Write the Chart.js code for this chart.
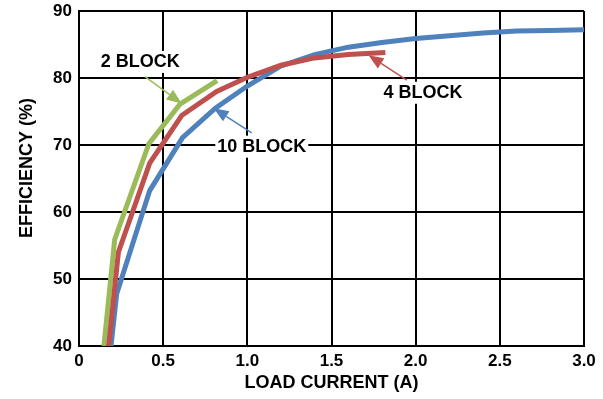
<!DOCTYPE html>
<html>
<head>
<meta charset="utf-8">
<script src="https://cdn.jsdelivr.net/npm/chart.js@4/dist/chart.umd.min.js"></script>
<style>
  html, body { margin: 0; padding: 0; background: #fff; }
  #wrap { width: 603px; height: 399px; position: relative; }
</style>
</head>
<body>
<div id="wrap"><canvas id="c"></canvas></div>
<script>
// Efficiency vs load current for three block configurations
const twoBlockCurrent = [0.148, 0.212, 0.415, 0.60, 0.82];
const twoBlockEff     = [40, 55.9, 70.2, 76.1, 79.6];

const fourBlockCurrent = [0.176, 0.234, 0.42, 0.61, 0.818, 1.0, 1.2, 1.4, 1.6, 1.82];
const fourBlockEff     = [40, 54.0, 67.3, 74.4, 78.0, 80.1, 81.9, 83.0, 83.5, 83.8];

const tenBlockCurrent = [0.19, 0.224, 0.42, 0.615, 0.81, 1.0, 1.2, 1.4, 1.6, 1.8, 2.0, 2.2, 2.4, 2.6, 2.8, 3.0];
const tenBlockEff     = [40, 47.8, 63.2, 71.1, 75.5, 78.8, 81.8, 83.5, 84.6, 85.3, 85.9, 86.3, 86.7, 87.0, 87.1, 87.2];

const xTickValues = [0, 0.5, 1, 1.5, 2, 2.5, 3];
const xTickLabels = ['0', '0.5', '1.0', '1.5', '2.0', '2.5', '3.0'];
const yTickValues = [40, 50, 60, 70, 80, 90];
const yTickLabels = ['40', '50', '60', '70', '80', '90'];

const xTitle = 'LOAD CURRENT (A)';
const yTitle = 'EFFICIENCY (%)';

// Callouts: label centre and arrow tail/tip, in axis units (A, %)
const calloutText   = ['2 BLOCK', '4 BLOCK', '10 BLOCK'];
const calloutLabelX = [0.364, 2.044, 1.086];
const calloutLabelY = [82.4, 77.8, 69.75];
const arrowTailX    = [0.392, 1.947, 1.026];
const arrowTailY    = [80.2, 79.7, 71.8];
const arrowTipX     = [0.61, 1.72, 0.80];
const arrowTipY     = [76.2, 83.4, 75.5];

const GREEN = '#9BBB59';
const RED   = '#C0504D';
const BLUE  = '#4F81BD';
const calloutColor = [GREEN, RED, BLUE];

const FONT = '"Liberation Sans", Arial, sans-serif';

function toPoints(xs, ys) {
  return xs.map((x, i) => ({ x: x, y: ys[i] }));
}

const lineStyle = {
  showLine: true,
  pointRadius: 0,
  pointHoverRadius: 0,
  borderWidth: 5,
  tension: 0,
  fill: false,
  borderJoinStyle: 'miter',
  borderCapStyle: 'butt'
};

// Axis titles and callout arrows/labels
const overlay = {
  id: 'overlay',
  afterDraw(chart) {
    const ctx = chart.ctx;
    const xs = chart.scales.x, ys = chart.scales.y;
    const area = chart.chartArea;
    ctx.save();

    // axis titles
    ctx.fillStyle = '#000';
    ctx.font = 'bold 18px ' + FONT;
    ctx.textAlign = 'center';
    ctx.textBaseline = 'middle';
    ctx.fillText(xTitle, (area.left + area.right) / 2, 383);
    ctx.save();
    ctx.translate(27, 168);
    ctx.rotate(-Math.PI / 2);
    ctx.fillText(yTitle, 0, 0);
    ctx.restore();

    // callouts
    for (let i = 0; i < calloutText.length; i++) {
      const col = calloutColor[i];
      const tx = xs.getPixelForValue(arrowTailX[i]);
      const ty = ys.getPixelForValue(arrowTailY[i]);
      const hx = xs.getPixelForValue(arrowTipX[i]);
      const hy = ys.getPixelForValue(arrowTipY[i]);
      const ang = Math.atan2(hy - ty, hx - tx);
      const headLen = 15, headHalf = 6;
      const bx = hx - headLen * Math.cos(ang);
      const by = hy - headLen * Math.sin(ang);
      ctx.strokeStyle = col;
      ctx.lineWidth = 1.5;
      ctx.beginPath();
      ctx.moveTo(tx, ty);
      ctx.lineTo(bx, by);
      ctx.stroke();
      ctx.fillStyle = col;
      ctx.beginPath();
      ctx.moveTo(hx, hy);
      ctx.lineTo(bx + headHalf * Math.sin(ang), by - headHalf * Math.cos(ang));
      ctx.lineTo(bx - headHalf * Math.sin(ang), by + headHalf * Math.cos(ang));
      ctx.closePath();
      ctx.fill();

      // label with white backing
      const lx = xs.getPixelForValue(calloutLabelX[i]);
      const ly = ys.getPixelForValue(calloutLabelY[i]);
      ctx.font = 'bold 18px ' + FONT;
      const w = ctx.measureText(calloutText[i]).width;
      ctx.fillStyle = '#fff';
      ctx.fillRect(lx - w / 2 - 2, ly - 11, w + 4, 22);
      ctx.fillStyle = '#000';
      ctx.textAlign = 'center';
      ctx.textBaseline = 'middle';
      ctx.fillText(calloutText[i], lx, ly);
    }
    ctx.restore();
  }
};

new Chart(document.getElementById('c'), {
  type: 'scatter',
  data: {
    datasets: [
      Object.assign({ label: calloutText[0], data: toPoints(twoBlockCurrent, twoBlockEff), borderColor: GREEN, backgroundColor: GREEN, order: 2 }, lineStyle),
      Object.assign({ label: calloutText[1], data: toPoints(fourBlockCurrent, fourBlockEff), borderColor: RED, backgroundColor: RED, order: 1 }, lineStyle),
      Object.assign({ label: calloutText[2], data: toPoints(tenBlockCurrent, tenBlockEff), borderColor: BLUE, backgroundColor: BLUE, order: 3 }, lineStyle)
    ]
  },
  options: {
    responsive: true,
    maintainAspectRatio: false,
    animation: false,
    events: [],
    layout: { padding: { left: 0, top: 11, right: 19, bottom: 0 } },
    plugins: { legend: { display: false }, tooltip: { enabled: false } },
    scales: {
      x: {
        type: 'linear',
        min: 0, max: 3,
        afterBuildTicks(scale) { scale.ticks = xTickValues.map(v => ({ value: v })); },
        afterFit(scale) { scale.height = 53; scale.paddingLeft = 0; scale.paddingRight = 0; },
        ticks: {
          color: '#000',
          font: { family: FONT, size: 17, weight: 'bold' },
          padding: 5,
          maxRotation: 0,
          callback(v) { const i = xTickValues.indexOf(v); return i >= 0 ? xTickLabels[i] : ''; }
        },
        grid: { color: '#000', lineWidth: 2, drawTicks: false },
        border: { color: '#000', width: 2 }
      },
      y: {
        type: 'linear',
        min: 40, max: 90,
        afterBuildTicks(scale) { scale.ticks = yTickValues.map(v => ({ value: v })); },
        afterFit(scale) { scale.width = 79; scale.paddingTop = 0; scale.paddingBottom = 0; },
        ticks: {
          color: '#000',
          font: { family: FONT, size: 17, weight: 'bold' },
          padding: 7,
          callback(v) { const i = yTickValues.indexOf(v); return i >= 0 ? yTickLabels[i] : ''; }
        },
        grid: { color: '#000', lineWidth: 2, drawTicks: false },
        border: { color: '#000', width: 2 }
      }
    }
  },
  plugins: [overlay]
});
</script>
</body>
</html>
